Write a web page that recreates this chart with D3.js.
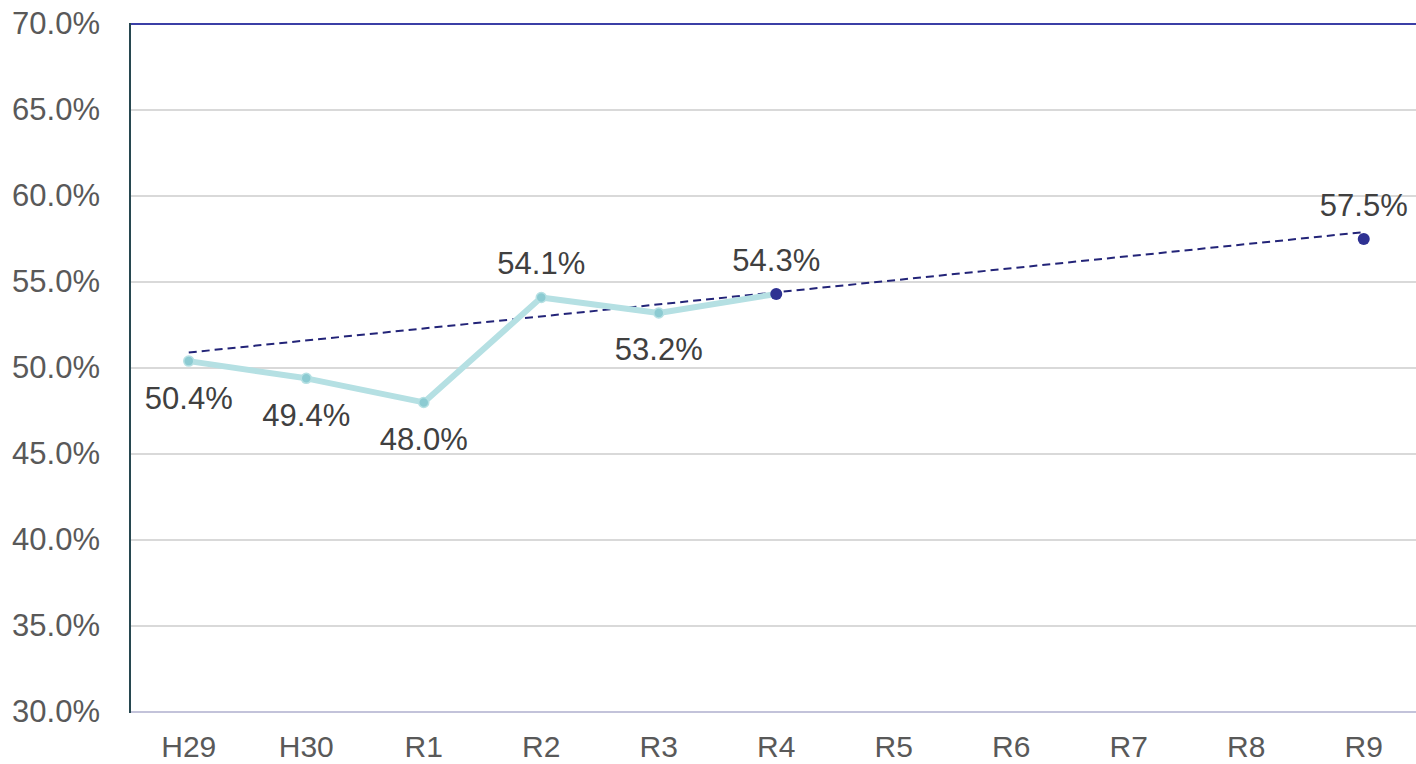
<!DOCTYPE html>
<html>
<head>
<meta charset="utf-8">
<script src="https://cdn.jsdelivr.net/npm/d3@7/dist/d3.min.js"></script>
<style>
  html, body { margin: 0; padding: 0; background: #ffffff; }
  svg { display: block; font-family: "Liberation Sans", Arial, sans-serif; }
</style>
</head>
<body>
<svg id="chart" width="1416" height="764"></svg>
<script>
// Fiscal-year categories (Heisei / Reiwa)
const categories = ["H29", "H30", "R1", "R2", "R3", "R4", "R5", "R6", "R7", "R8", "R9"];
// Actual rates (%)
const actualYears = ["H29", "H30", "R1", "R2", "R3", "R4"];
const actualValues = [50.4, 49.4, 48.0, 54.1, 53.2, 54.3];
// Label placement for each actual point: above or below
const labelSide = ["below", "below", "below", "above", "below", "above"];
// Target value
const targetYear = "R9";
const targetValue = 57.5;
// Trend line endpoints
const trendYears = ["H29", "R9"];
const trendValues = [50.9, 57.9];
// Y-axis ticks
const yTicks = [30, 35, 40, 45, 50, 55, 60, 65, 70];

(function () {
  const svg = d3.select("#chart");
  const plotLeft = 130, plotTop = 24, plotBottom = 712;
  const bandRight = 1422.5;

  const x = d3.scaleBand().domain(categories).range([plotLeft, bandRight]).padding(0);
  const cx = c => x(c) + x.bandwidth() / 2;
  const y = d3.scaleLinear().domain([30, 70]).range([plotBottom, plotTop]);

  const fmt = v => v.toFixed(1) + "%";

  // Horizontal gridlines
  svg.append("g")
    .selectAll("line")
    .data(yTicks.filter(t => t !== 30 && t !== 70))
    .join("line")
    .attr("x1", plotLeft).attr("x2", 1416)
    .attr("y1", d => y(d)).attr("y2", d => y(d))
    .attr("stroke", "#d9d9d9").attr("stroke-width", 2);

  // Top border line
  svg.append("line")
    .attr("x1", plotLeft).attr("x2", 1416)
    .attr("y1", y(70)).attr("y2", y(70))
    .attr("stroke", "#3b3fa6").attr("stroke-width", 2);

  // Bottom axis line
  svg.append("line")
    .attr("x1", plotLeft).attr("x2", 1416)
    .attr("y1", y(30)).attr("y2", y(30))
    .attr("stroke", "#c3c3da").attr("stroke-width", 2);

  // Left axis line
  svg.append("line")
    .attr("x1", plotLeft).attr("x2", plotLeft)
    .attr("y1", y(70) - 1).attr("y2", y(30) + 1)
    .attr("stroke", "#274750").attr("stroke-width", 2);

  // Y tick labels
  const yAxis = d3.axisLeft(y).tickValues(yTicks).tickFormat(fmt).tickSize(0).tickPadding(30);
  const gy = svg.append("g").attr("transform", `translate(${plotLeft},0)`).call(yAxis);
  gy.select(".domain").remove();
  gy.selectAll("text")
    .attr("fill", "#595959")
    .style("font-size", "31px")
    .style("font-family", "'Liberation Sans', Arial, sans-serif");

  // X tick labels
  const xAxis = d3.axisBottom(x).tickSize(0).tickPadding(24);
  const gx = svg.append("g").attr("transform", `translate(0,${plotBottom})`).call(xAxis);
  gx.select(".domain").remove();
  gx.selectAll("text")
    .attr("fill", "#595959")
    .style("font-size", "30px")
    .style("font-family", "'Liberation Sans', Arial, sans-serif");

  // Trend line (dashed)
  const trendLine = d3.line().x(d => cx(d[0])).y(d => y(d[1]));
  svg.append("path")
    .datum(trendYears.map((c, i) => [c, trendValues[i]]))
    .attr("d", trendLine)
    .attr("fill", "none")
    .attr("stroke", "#232478")
    .attr("stroke-width", 2)
    .attr("stroke-dasharray", "8,5");

  // Actual values line
  const actual = actualYears.map((c, i) => ({ c, v: actualValues[i], side: labelSide[i] }));
  const line = d3.line().x(d => cx(d.c)).y(d => y(d.v));
  svg.append("path")
    .datum(actual)
    .attr("d", line)
    .attr("fill", "none")
    .attr("stroke", "#b5e0e3")
    .attr("stroke-width", 6)
    .attr("stroke-linejoin", "round");

  // Actual markers (last one highlighted)
  svg.append("g")
    .selectAll("circle")
    .data(actual)
    .join("circle")
    .attr("cx", d => cx(d.c))
    .attr("cy", d => y(d.v))
    .attr("r", (d, i) => i === actual.length - 1 ? 6 : 5)
    .attr("fill", (d, i) => i === actual.length - 1 ? "#2e3192" : "#8ccbd2")
    .attr("stroke", (d, i) => i === actual.length - 1 ? "none" : "#b5e0e3")
    .attr("stroke-width", 1.5);

  // Target marker
  svg.append("circle")
    .attr("cx", cx(targetYear))
    .attr("cy", y(targetValue))
    .attr("r", 6)
    .attr("fill", "#2e3192");

  // Data labels
  const labels = actual.map(d => ({ c: d.c, v: d.v, side: d.side }))
    .concat([{ c: targetYear, v: targetValue, side: "above" }]);
  svg.append("g")
    .selectAll("text")
    .data(labels)
    .join("text")
    .attr("x", d => cx(d.c))
    .attr("y", d => y(d.v) + (d.side === "below" ? 37 : -34))
    .attr("text-anchor", "middle")
    .attr("dominant-baseline", "central")
    .attr("fill", "#404040")
    .style("font-size", "31px")
    .text(d => fmt(d.v));
})();
</script>
</body>
</html>
